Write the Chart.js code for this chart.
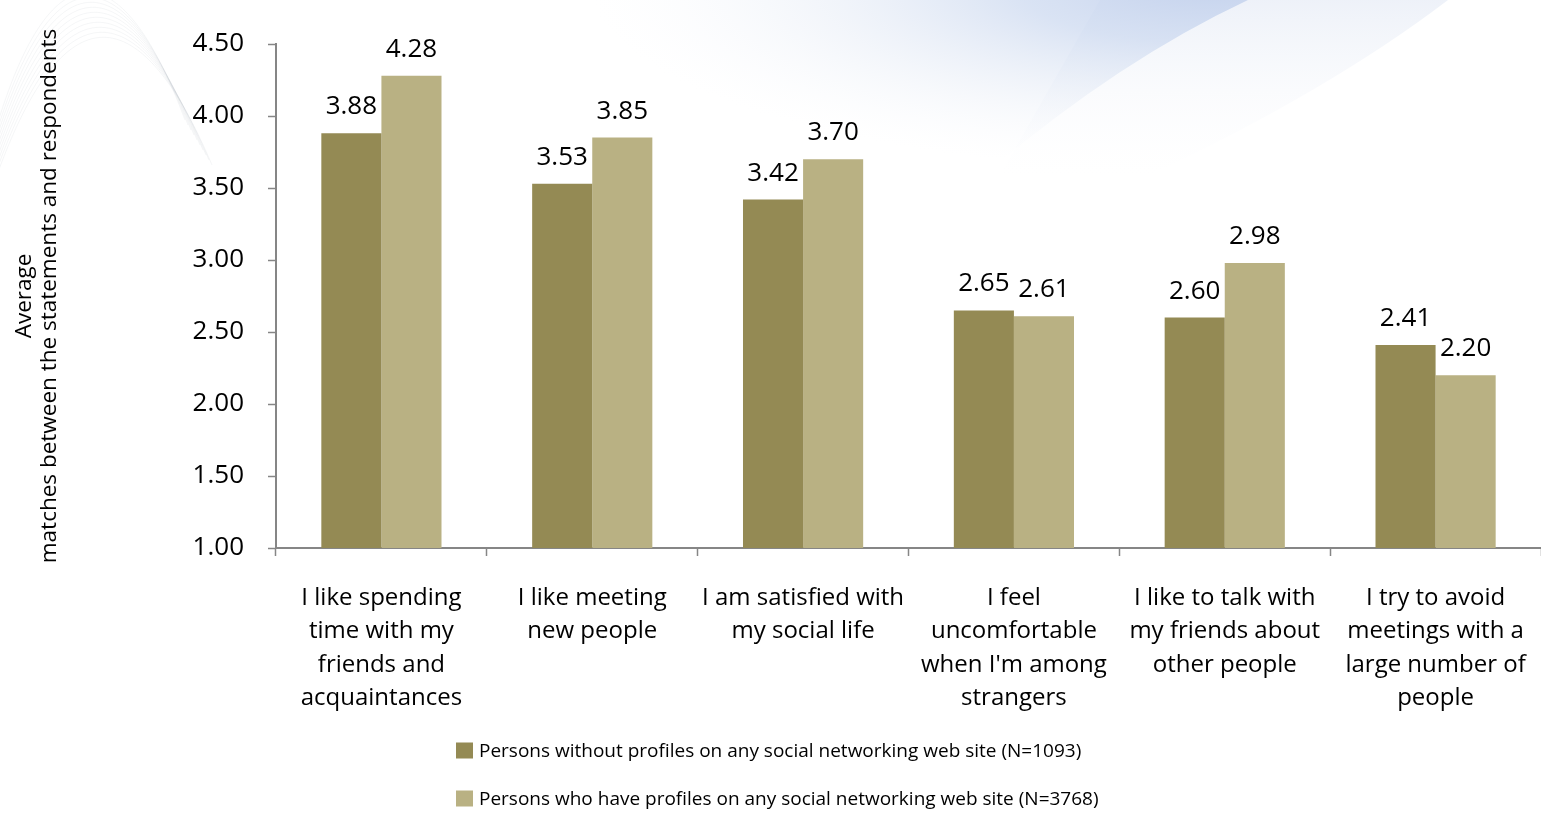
<!DOCTYPE html>
<html>
<head>
<meta charset="utf-8">
<script src="https://cdn.jsdelivr.net/npm/chart.js@4.4.1/dist/chart.umd.min.js"></script>
<style>
  html, body { margin: 0; padding: 0; background: #ffffff; }
  #wrap { width: 1541px; height: 815px; position: relative; }
  canvas { display: block; }
</style>
</head>
<body>
<div id="wrap"><canvas id="chart" width="1541" height="815"></canvas></div>
<script>
// Statements (wrapped onto several lines as they appear under the axis)
const categories = [
  ["I like spending", "time with my", "friends and", "acquaintances"],
  ["I like meeting", "new people"],
  ["I am satisfied with", "my social life"],
  ["I feel", "uncomfortable", "when I'm among", "strangers"],
  ["I like to talk with", "my friends about", "other people"],
  ["I try to avoid", "meetings with a", "large number of", "people"]
];

const seriesNames = [
  "Persons without profiles on any social networking web site (N=1093)",
  "Persons who have profiles on any social networking web site (N=3768)"
];

// Average agreement scores
const withoutProfiles = [3.88, 3.53, 3.42, 2.65, 2.60, 2.41];
const withProfiles    = [4.28, 3.85, 3.70, 2.61, 2.98, 2.20];

const yAxisTitle = ["Average", "matches between the statements and respondents"];
const yMin = 1.00, yMax = 4.50, yStep = 0.50;

const seriesColors = ["#948A54", "#B9B183"];
const FONT = "'Open Sans', 'Noto Sans', sans-serif";

// Soft decorative wave behind the chart
const backdrop = {
  id: "backdrop",
  beforeDraw(chart) {
    const ctx = chart.ctx;
    ctx.save();
    ctx.fillStyle = "#ffffff";
    ctx.fillRect(0, 0, chart.width, chart.height);

    // very pale outer band (right of the blue sweep)
    ctx.save();
    ctx.beginPath();
    ctx.moveTo(1100, 0);
    ctx.lineTo(1448, 0);
    ctx.quadraticCurveTo(1330, 90, 1150, 175);
    ctx.lineTo(1000, 175);
    ctx.closePath();
    ctx.clip();
    let g = ctx.createLinearGradient(0, 0, 0, 175);
    g.addColorStop(0, "rgba(236,240,248,0.9)");
    g.addColorStop(1, "rgba(250,251,253,0)");
    ctx.fillStyle = g;
    ctx.fillRect(1000, 0, 460, 175);
    ctx.restore();

    // blue sweep, strongest at the top and fading down and to the left
    ctx.save();
    ctx.beginPath();
    ctx.moveTo(200, 0);
    ctx.lineTo(1248, 0);
    ctx.quadraticCurveTo(1120, 60, 990, 170);
    ctx.lineTo(200, 170);
    ctx.closePath();
    ctx.clip();
    ctx.translate(1210, -15);
    ctx.scale(1, 0.3);
    g = ctx.createRadialGradient(0, 0, 10, 0, 0, 620);
    g.addColorStop(0, "rgba(196,210,237,0.95)");
    g.addColorStop(0.3, "rgba(208,220,241,0.8)");
    g.addColorStop(0.65, "rgba(230,236,246,0.45)");
    g.addColorStop(1, "rgba(246,248,252,0)");
    ctx.fillStyle = g;
    ctx.fillRect(-1100, -100, 1200, 800);
    ctx.restore();

    // faint hill-shaped strokes in the upper left corner
    ctx.strokeStyle = "rgba(185,188,198,0.14)";
    ctx.lineWidth = 1;
    for (let i = 0; i < 10; i++) {
      const k = i * 5;
      ctx.beginPath();
      ctx.moveTo(-10, 150 + k);
      ctx.bezierCurveTo(45 + k * 0.3, -55 + k, 120 + k * 0.4, -55 + k, 185 + k * 0.6, 120 + k);
      ctx.stroke();
    }
    ctx.restore();
  }
};

// Values printed above every bar
const valueLabels = {
  id: "valueLabels",
  afterDatasetsDraw(chart) {
    const ctx = chart.ctx;
    ctx.save();
    ctx.font = "26px " + FONT;
    ctx.fillStyle = "#000000";
    ctx.textAlign = "center";
    ctx.textBaseline = "alphabetic";
    chart.data.datasets.forEach((ds, di) => {
      const meta = chart.getDatasetMeta(di);
      meta.data.forEach((bar, i) => {
        ctx.fillText(ds.data[i].toFixed(2), bar.x, bar.y - 19);
      });
    });
    ctx.restore();
  }
};

// Two-row legend under the category labels
const stackedLegend = {
  id: "stackedLegend",
  afterDraw(chart) {
    const ctx = chart.ctx;
    ctx.save();
    ctx.font = "19px " + FONT;
    const box = 17, gap = 6;
    const left = 456;
    const rows = [751, 799];
    ctx.textBaseline = "middle";
    ctx.textAlign = "left";
    chart.data.datasets.forEach((ds, i) => {
      ctx.fillStyle = ds.backgroundColor;
      ctx.fillRect(left, rows[i] - box / 2, box, box - 1);
      ctx.fillStyle = "#000000";
      ctx.fillText(ds.label, left + box + gap, rows[i] + 1);
    });
    ctx.restore();
  }
};

new Chart(document.getElementById("chart"), {
  type: "bar",
  data: {
    labels: categories,
    datasets: [
      { label: seriesNames[0], data: withoutProfiles, backgroundColor: seriesColors[0] },
      { label: seriesNames[1], data: withProfiles, backgroundColor: seriesColors[1] }
    ]
  },
  options: {
    responsive: false,
    animation: false,
    devicePixelRatio: 1,
    layout: { padding: { top: 44, left: 0, right: 0, bottom: 0 } },
    datasets: {
      bar: { categoryPercentage: 0.57, barPercentage: 1.0, borderWidth: 0 }
    },
    plugins: {
      legend: { display: false },
      tooltip: { enabled: false }
    },
    scales: {
      x: {
        grid: {
          display: true,
          offset: true,
          drawOnChartArea: false,
          drawTicks: true,
          tickLength: 8,
          tickWidth: 1.5,
          tickColor: "#868686"
        },
        border: { display: true, color: "#868686", width: 2 },
        ticks: {
          color: "#000000",
          font: { family: FONT, size: 24, lineHeight: 1.4 },
          padding: 25,
          maxRotation: 0,
          autoSkip: false
        },
        afterFit(scale) {
          scale.height = 815 - 548;
          scale.paddingLeft = 0;
          scale.paddingRight = 0;
        }
      },
      y: {
        min: yMin,
        max: yMax,
        grid: {
          display: true,
          drawOnChartArea: false,
          drawTicks: true,
          tickLength: 8,
          tickWidth: 1.5,
          tickColor: "#868686"
        },
        border: { display: true, color: "#868686", width: 2 },
        ticks: {
          stepSize: yStep,
          color: "#000000",
          font: { family: FONT, size: 26 },
          padding: 24,
          callback: v => Number(v).toFixed(2)
        },
        title: {
          display: true,
          text: yAxisTitle,
          color: "#000000",
          font: { family: FONT, size: 22.5, lineHeight: 1.11 },
          padding: { top: 12.5, bottom: 0 }
        },
        afterFit(scale) {
          scale.width = 276;
          scale.paddingTop = 0;
          scale.paddingBottom = 0;
        }
      }
    }
  },
  plugins: [backdrop, valueLabels, stackedLegend]
});
</script>
</body>
</html>
